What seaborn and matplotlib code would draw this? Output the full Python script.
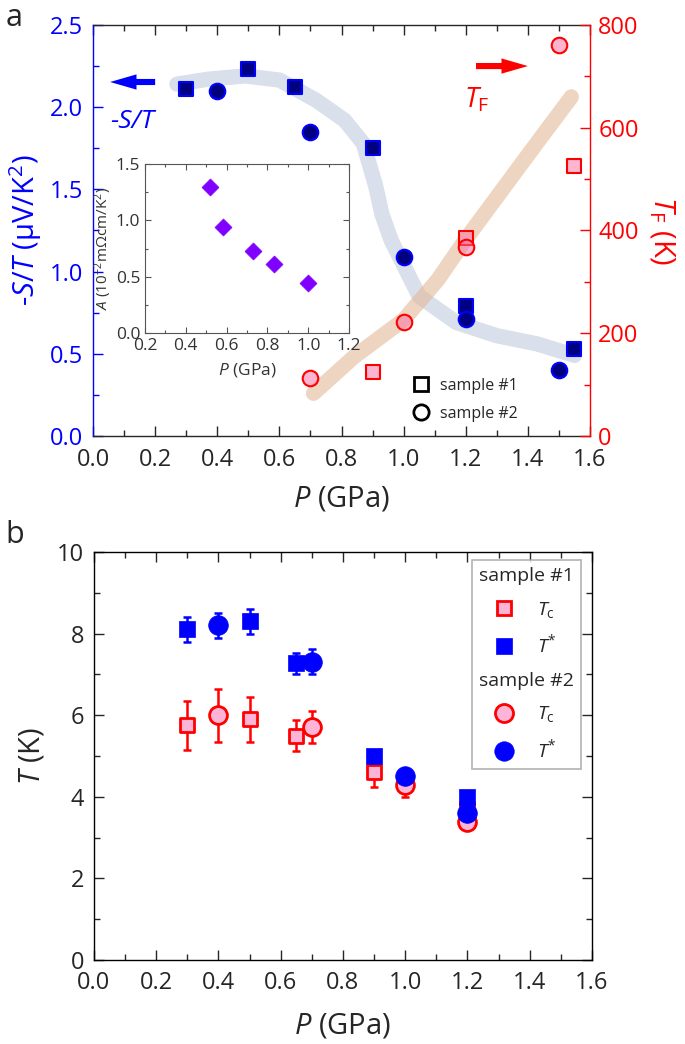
import numpy as np
import pandas as pd
import matplotlib.pyplot as plt
import seaborn as sns
from matplotlib.lines import Line2D
from matplotlib.ticker import MultipleLocator

# === DATA: panel a (thermopower -S/T and Fermi temperature T_F) ===
P_st_s1 = [0.3, 0.5, 0.65, 0.9, 1.2, 1.55]
st_s1 = [2.11, 2.23, 2.12, 1.75, 0.79, 0.53]
P_st_s2 = [0.4, 0.7, 1.0, 1.2, 1.5]
st_s2 = [2.10, 1.85, 1.09, 0.71, 0.40]

P_tf_s1 = [0.9, 1.2, 1.55]
tf_s1 = [125, 385, 525]
P_tf_s2 = [0.7, 1.0, 1.2, 1.5]
tf_s2 = [113, 222, 368, 761]

# guide-to-the-eye bands
P_guide_st = [0.27, 0.37, 0.49, 0.60, 0.72, 0.81, 0.87, 0.91, 0.93, 0.96, 1.05, 1.17, 1.30, 1.43, 1.55]
guide_st = [2.14, 2.17, 2.19, 2.165, 2.04, 1.92, 1.78, 1.52, 1.35, 1.19, 0.85, 0.69, 0.61, 0.56, 0.49]
P_guide_tf = [0.71, 0.84, 1.0, 1.11, 1.2, 1.31, 1.42, 1.54]
guide_tf = [83, 154, 226, 304, 383, 473, 563, 660]

# inset: A coefficient
P_A = [0.52, 0.58, 0.73, 0.83, 1.0]
A_coef = [1.30, 0.94, 0.73, 0.61, 0.44]

# === DATA: panel b (Tc and T*) ===
P_b_s1 = [0.3, 0.5, 0.65, 0.9, 1.2]
Tc_s1 = [5.75, 5.9, 5.5, 4.6, 3.7]
Tc_s1_err = [0.6, 0.55, 0.37, 0.35, 0.0]
Tstar_s1 = [8.1, 8.3, 7.27, 5.0, 4.0]
Tstar_s1_err = [0.3, 0.3, 0.25, 0.0, 0.0]
P_b_s2 = [0.4, 0.7, 1.0, 1.2]
Tc_s2 = [6.0, 5.71, 4.29, 3.39]
Tc_s2_err = [0.65, 0.4, 0.3, 0.0]
Tstar_s2 = [8.2, 7.31, 4.5, 3.61]
Tstar_s2_err = [0.3, 0.3, 0.0, 0.0]

# === STYLE ===
sns.set_style('ticks')
plt.rcParams['font.family'] = ['Open Sans', 'DejaVu Sans']
plt.rcParams['mathtext.fontset'] = 'custom'
plt.rcParams['mathtext.rm'] = 'Open Sans'
plt.rcParams['mathtext.it'] = 'Open Sans:italic'
plt.rcParams['mathtext.bf'] = 'Open Sans:bold'

NAVY = '#000080'
PINK_T = (0.984, 0.42, 0.63, 0.5)
PINK = '#FDB4D6'
TICK_FS = 17
LAB_FS = 21

fig = plt.figure(figsize=(6.85, 10.44), dpi=100)

# ---------------- panel a ----------------
ax = fig.add_axes([0.1358, 0.5824, 0.7255, 0.3937])
ax2 = ax.twinx()

sns.lineplot(x=P_guide_st, y=guide_st, ax=ax, sort=False, estimator=None,
             color='#C0CBDF', alpha=0.6, lw=11, solid_capstyle='round', zorder=1)
sns.lineplot(x=P_guide_tf, y=guide_tf, ax=ax2, sort=False, estimator=None,
             color='#E4B998', alpha=0.6, lw=11, solid_capstyle='round', zorder=1)

sns.scatterplot(x=P_st_s1, y=st_s1, ax=ax, marker='s', s=110, color=NAVY,
                edgecolor='blue', linewidth=1.5, zorder=3)
sns.scatterplot(x=P_st_s2, y=st_s2, ax=ax, marker='o', s=125, color=NAVY,
                edgecolor='blue', linewidth=1.5, zorder=3)
sns.scatterplot(x=P_tf_s1, y=tf_s1, ax=ax2, marker='s', s=110, color=PINK_T,
                edgecolor='red', linewidth=1.5, zorder=3)
sns.scatterplot(x=P_tf_s2, y=tf_s2, ax=ax2, marker='o', s=125, color=PINK_T,
                edgecolor='red', linewidth=1.5, zorder=3)

ax.set_xlim(0, 1.6)
ax.set_ylim(0, 2.5)
ax2.set_ylim(0, 800)
ax.xaxis.set_major_locator(MultipleLocator(0.2))
ax.xaxis.set_minor_locator(MultipleLocator(0.1))
ax.yaxis.set_major_locator(MultipleLocator(0.5))
ax.yaxis.set_minor_locator(MultipleLocator(0.25))
ax2.yaxis.set_major_locator(MultipleLocator(200))
ax2.yaxis.set_minor_locator(MultipleLocator(100))

ax.tick_params(axis='x', which='both', direction='in', top=True, labelsize=TICK_FS, width=1, pad=9)
ax.tick_params(axis='x', which='major', length=7)
ax.tick_params(axis='x', which='minor', length=4)
ax.tick_params(axis='y', which='both', direction='in', colors='blue', left=True, right=False,
               labelsize=TICK_FS, width=1, pad=7)
ax.tick_params(axis='y', which='major', length=7)
ax.tick_params(axis='y', which='minor', length=4)
ax2.tick_params(axis='y', which='both', direction='in', colors='red', labelsize=TICK_FS, width=1, pad=6)
ax2.tick_params(axis='y', which='major', length=7)
ax2.tick_params(axis='y', which='minor', length=4)

ax.spines['left'].set_color('blue')
ax.spines['right'].set_visible(False)
for side in ['left', 'top', 'bottom']:
    ax2.spines[side].set_visible(False)
ax2.spines['right'].set_color('red')
for sp in list(ax.spines.values()) + list(ax2.spines.values()):
    sp.set_linewidth(1)

ax.set_xlabel('$P$ (GPa)', fontsize=LAB_FS, labelpad=9)
ax.set_ylabel('-$S$/$T$ (μV/K$^{2}$)', fontsize=LAB_FS, color='blue', labelpad=4)
ax2.set_ylabel('$T_\\mathrm{F}$ (K)', fontsize=LAB_FS, color='red', rotation=270,
               va='bottom', labelpad=6)

arrow_kw = dict(arrowstyle='simple,head_length=0.95,head_width=0.55,tail_width=0.22',
                mutation_scale=20, shrinkA=0, shrinkB=0, lw=0)
ax.annotate('', xy=(0.055, 2.153), xytext=(0.20, 2.153),
            arrowprops=dict(color='blue', **arrow_kw))
ax.annotate('', xy=(1.40, 2.25), xytext=(1.233, 2.25),
            arrowprops=dict(color='red', **arrow_kw))
ax.text(0.055, 1.91, '-S/T', color='blue', fontsize=19, style='italic', va='center')
ax.text(1.195, 2.04, '$T_\\mathrm{F}$', color='red', fontsize=20, va='center')

leg_a = ax.legend(handles=[Line2D([], [], ls='none', marker='s', ms=10.5, mfc='none', mec='black', mew=2),
                           Line2D([], [], ls='none', marker='o', ms=11, mfc='none', mec='black', mew=2)],
                  labels=['sample #1', 'sample #2'], loc='lower left', bbox_to_anchor=(0.64, 0.035),
                  frameon=False, fontsize=11.5, handlelength=1.2, handletextpad=0.6,
                  borderpad=0, borderaxespad=0, labelspacing=0.75)

# inset
axi = fig.add_axes([0.2117, 0.681, 0.2978, 0.1619])
sns.scatterplot(x=P_A, y=A_coef, ax=axi, marker='D', s=75, color='#8000FF',
                edgecolor='#8000FF', linewidth=0.5, zorder=3)
axi.set_xlim(0.2, 1.2)
axi.set_ylim(0, 1.5)
axi.xaxis.set_major_locator(MultipleLocator(0.2))
axi.xaxis.set_minor_locator(MultipleLocator(0.1))
axi.yaxis.set_major_locator(MultipleLocator(0.5))
axi.yaxis.set_minor_locator(MultipleLocator(0.25))
axi.tick_params(which='both', direction='in', top=True, right=True, labelsize=12.5,
                colors='#555555', labelcolor='#333333', width=0.8)
axi.tick_params(which='major', length=4)
axi.tick_params(which='minor', length=2.5)
for sp in axi.spines.values():
    sp.set_color('#555555')
    sp.set_linewidth(0.8)
axi.set_xlabel('$P$ (GPa)', fontsize=12.5, color='#333333', labelpad=5)
axi.set_ylabel('$A$ (10$^{-2}$mΩcm/K$^{2}$)', fontsize=11, color='#333333', labelpad=1)

# ---------------- panel b ----------------
axb = fig.add_axes([0.1372, 0.0805, 0.727, 0.3908])

ebar_kw = dict(fmt='none', elinewidth=1.8, capsize=3, capthick=1.8, zorder=2)
axb.errorbar(P_b_s1, Tc_s1, yerr=Tc_s1_err, ecolor='red', **ebar_kw)
axb.errorbar(P_b_s2, Tc_s2, yerr=Tc_s2_err, ecolor='red', **ebar_kw)
axb.errorbar(P_b_s1, Tstar_s1, yerr=Tstar_s1_err, ecolor='blue', **ebar_kw)
axb.errorbar(P_b_s2, Tstar_s2, yerr=Tstar_s2_err, ecolor='blue', **ebar_kw)

sns.scatterplot(x=P_b_s1, y=Tc_s1, ax=axb, marker='s', s=110, color=PINK,
                edgecolor='red', linewidth=2, zorder=3)
sns.scatterplot(x=P_b_s2, y=Tc_s2, ax=axb, marker='o', s=165, color=PINK,
                edgecolor='red', linewidth=2, zorder=3)
sns.scatterplot(x=P_b_s1, y=Tstar_s1, ax=axb, marker='s', s=140, color='blue',
                edgecolor='blue', linewidth=0.5, zorder=4)
sns.scatterplot(x=P_b_s2, y=Tstar_s2, ax=axb, marker='o', s=200, color='blue',
                edgecolor='blue', linewidth=0.5, zorder=4)

axb.set_xlim(0, 1.6)
axb.set_ylim(0, 10)
axb.xaxis.set_major_locator(MultipleLocator(0.2))
axb.xaxis.set_minor_locator(MultipleLocator(0.1))
axb.yaxis.set_major_locator(MultipleLocator(2))
axb.yaxis.set_minor_locator(MultipleLocator(1))
axb.tick_params(which='both', direction='in', top=True, right=True, labelsize=TICK_FS, width=1)
axb.tick_params(axis='x', pad=8)
axb.tick_params(axis='y', pad=7)
axb.tick_params(which='major', length=7)
axb.tick_params(which='minor', length=4)
for sp in axb.spines.values():
    sp.set_linewidth(1)
    sp.set_color('black')
axb.set_xlabel('$P$ (GPa)', fontsize=LAB_FS, labelpad=12)
axb.set_ylabel('$T$ (K)', fontsize=LAB_FS, labelpad=8)

handles_b = [
    Line2D([], [], ls='none'),
    Line2D([], [], ls='none', marker='s', ms=10.5, mfc=PINK, mec='red', mew=2),
    Line2D([], [], ls='none', marker='s', ms=12, mfc='blue', mec='blue', mew=0.5),
    Line2D([], [], ls='none'),
    Line2D([], [], ls='none', marker='o', ms=13, mfc=PINK, mec='red', mew=2),
    Line2D([], [], ls='none', marker='o', ms=14, mfc='blue', mec='blue', mew=0.5),
]
labels_b = ['sample #1', '$T_\\mathrm{c}$', '$T^{*}$', 'sample #2', '$T_\\mathrm{c}$', '$T^{*}$']
leg_b = axb.legend(handles_b, labels_b, loc='upper right', bbox_to_anchor=(0.978, 0.98),
                   frameon=True, fancybox=False, edgecolor='#a0a0a0', fontsize=14,
                   handlelength=2.5, handletextpad=0.45, borderpad=0.35, labelspacing=0.75,
                   borderaxespad=0)
leg_b.get_frame().set_linewidth(1.2)
# section headers start at the left edge of the box
rows = leg_b._legend_handle_box.get_children()[0].get_children()
for i in (0, 3):
    rows[i].get_children()[0].width = 0
    rows[i].sep = 0

fig.text(0.008, 0.997, 'a', fontsize=22, va='top')
fig.text(0.008, 0.502, 'b', fontsize=22, va='top')

plt.savefig('out.png', dpi=100)
